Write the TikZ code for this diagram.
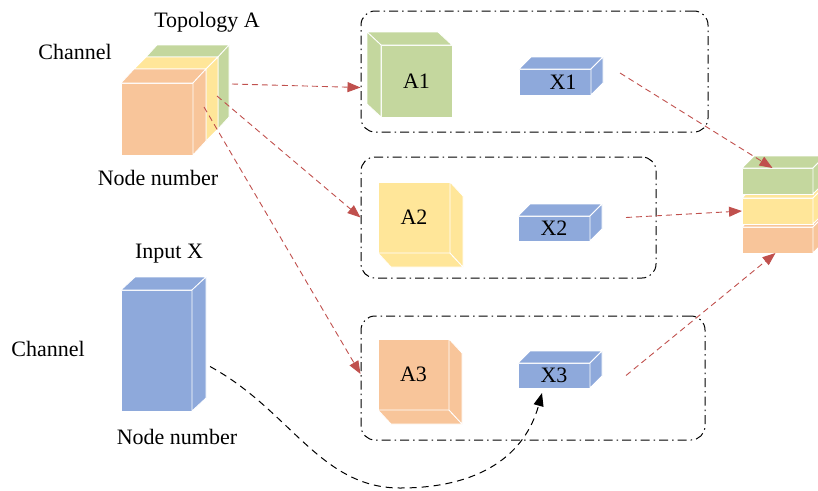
\documentclass[tikz,border=0pt]{standalone}
\usepackage{fontspec}
\setmainfont{Liberation Serif}
\usepackage{tikz}
\usetikzlibrary{calc,arrows.meta}

\definecolor{cgreen}{RGB}{196,215,158}
\definecolor{cyellow}{RGB}{255,230,153}
\definecolor{corange}{RGB}{248,197,154}
\definecolor{cblue}{RGB}{142,169,219}
\definecolor{cred}{RGB}{192,80,77}

\tikzset{
    face/.style={draw=white, line width=0.8pt},
    front/.style={face, rectangle, inner sep=0pt, outer sep=0pt},
    group/.style={draw, line width=1pt, rounded corners=14pt,
        dash pattern=on 9pt off 4pt on 1.5pt off 4pt},
    link/.style={cred, line width=0.9pt, dash pattern=on 6pt off 4pt,
        -{Triangle[length=13pt,width=10pt]}},
    feed/.style={black, line width=1pt, dash pattern=on 7pt off 5pt,
        -{Triangle[length=13pt,width=10pt]}}
}

% top/bottom and left/right faces of a block: node, dx, dy, colour, north|south, east|west
\newcommand{\sides}[6]{%
    \filldraw[face, fill=#4] (#1.#5 west) -- ++(#2,#3) -- ($(#1.#5 east)+(#2,#3)$) -- (#1.#5 east) -- cycle;
    \filldraw[face, fill=#4] (#1.north #6) -- ++(#2,#3) -- ($(#1.south #6)+(#2,#3)$) -- (#1.south #6) -- cycle;
}

\begin{document}
\begin{tikzpicture}[x=1pt, y=-1pt, font=\fontsize{22}{26}\selectfont]
    \useasboundingbox (0,0) rectangle (818,490);

    % The three dash-dot groups
    \node [group, minimum width=347pt, minimum height=121pt] (grp1) at (534.5,71.5) {};
    \node [group, minimum width=295pt, minimum height=121pt] (grp2) at (508.5,217.5) {};
    \node [group, minimum width=344pt, minimum height=124pt] (grp3) at (533,378) {};

    % Topology A, back slab first
    \node [front, fill=cgreen, minimum width=72pt, minimum height=72pt] (topg) at (182,93) {};
    \sides{topg}{11}{-12}{cgreen}{north}{east}
    \node [front, fill=cyellow, minimum width=72pt, minimum height=72pt] (topy) at (170,105) {};
    \sides{topy}{12}{-12}{cyellow}{north}{east}
    \node [front, fill=corange, minimum width=72pt, minimum height=72pt] (topo) at (157,119) {};
    \sides{topo}{13}{-14}{corange}{north}{east}

    \node (topolabel) at (207,22) {Topology A};
    \node (chan1) at (75,52) {Channel};
    \node (num1) at (158,178) {Node number};

    % Input X
    \node [front, fill=cblue, minimum width=71pt, minimum height=121pt] (inX) at (156.5,350.5) {};
    \sides{inX}{14}{-13}{cblue}{north}{east}

    \node (inlabel) at (169,254) {Input X};
    \node (chan2) at (48,349) {Channel};
    \node (num2) at (177,437) {Node number};

    % Blocks inside the groups
    \node [front, fill=cgreen, minimum width=71pt, minimum height=72pt] (A1) at (416.5,81) {A1};
    \sides{A1}{-14}{-13}{cgreen}{north}{west}
    \node [front, fill=cyellow, minimum width=72pt, minimum height=71pt] (A2) at (414,217.5) {A2};
    \sides{A2}{13}{14}{cyellow}{south}{east}
    \node [front, fill=corange, minimum width=71pt, minimum height=71pt] (A3) at (413.5,374.5) {A3};
    \sides{A3}{13}{14}{corange}{south}{east}

    \node [front, fill=cblue, minimum width=72pt, minimum height=26pt] (X1) at (555,82) {\hspace{16pt}X1};
    \sides{X1}{12}{-12}{cblue}{north}{east}
    \node [front, fill=cblue, minimum width=72pt, minimum height=25pt] (X2) at (554,228.5) {X2};
    \sides{X2}{12}{-12}{cblue}{north}{east}
    \node [front, fill=cblue, minimum width=72pt, minimum height=25pt] (X3) at (554,375.5) {X3};
    \sides{X3}{12}{-12}{cblue}{north}{east}

    % Output stack, bottom slab first
    \node [front, fill=corange, minimum width=71pt, minimum height=26pt] (outo) at (777.5,240) {};
    \sides{outo}{12}{-12}{corange}{north}{east}
    \node [front, fill=cyellow, minimum width=71pt, minimum height=26pt] (outy) at (777.5,211) {};
    \sides{outy}{12}{-12}{cyellow}{north}{east}
    \node [front, fill=cgreen, minimum width=71pt, minimum height=26pt] (outg) at (777.5,181) {};
    \sides{outg}{12}{-12}{cgreen}{north}{east}

    % Now the connectors
    \coordinate (s1) at (232,84);
    \coordinate (s2) at (217,96);
    \coordinate (s3) at (204,107);
    \draw [link] (s1) -- ($(grp1.west)+(0,16)$);
    \draw [link] (s2) -- (grp2.west);
    \draw [link] (s3) -- ($(grp3.west)+(0,-4)$);

    \draw [link] ($(X1.east)+(29,-9)$) -- ($(outg.north)+(-5,0)$);
    \draw [link] ($(X2.east)+(36,-11)$) -- (outy.west);
    \draw [link] ($(X3.east)+(36,0)$) -- ($(outo.south)+(-2,0)$);

    \coordinate (bend) at (400,488);
    \draw [feed] ($(inX.east)+(18,16)$) .. controls (290,410) and (320,488) .. (bend)
        .. controls (480,488) and (525,455) .. ($(X3.south)+(-12,5)$);
\end{tikzpicture}
\end{document}
